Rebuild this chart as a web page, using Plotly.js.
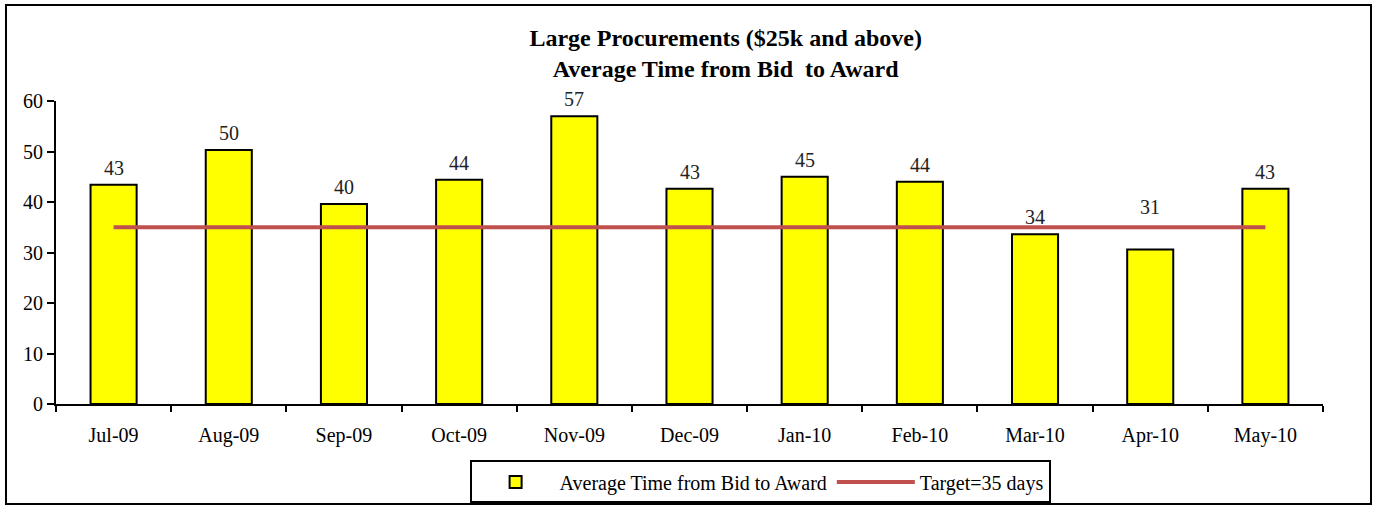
<!DOCTYPE html>
<html>
<head>
<meta charset="utf-8">
<script src="https://cdn.plot.ly/plotly-3.0.1.min.js"></script>
<style>
  html, body { margin: 0; padding: 0; background: #fff; }
  #wrap { position: relative; width: 1377px; height: 506px; }
  #chart { width: 1377px; height: 506px; }
  #frame { position: absolute; left: 5px; top: 4px; width: 1363px; height: 497px; border: 2px solid #000; pointer-events: none; }
</style>
</head>
<body>
<div id="wrap">
  <div id="chart"></div>
  <div id="frame"></div>
</div>
<script>
const months = ["Jul-09","Aug-09","Sep-09","Oct-09","Nov-09","Dec-09","Jan-10","Feb-10","Mar-10","Apr-10","May-10"];
const avgDays = [43.4, 50.3, 39.6, 44.4, 57.0, 42.6, 45.0, 44.0, 33.6, 30.6, 42.6];
const targetDays = [35, 35, 35, 35, 35, 35, 35, 35, 35, 35, 35];
const labelLift = [4, 4, 4, 4, 4, 4, 4, 4, 4, 29, 4];

const serif = "'Liberation Serif', 'Times New Roman', serif";

const traces = [
  {
    type: "bar",
    name: "Average Time from Bid to Award",
    x: months,
    y: avgDays,
    width: 0.4,
    marker: { color: "#FFFF00", line: { color: "#000000", width: 2 } },
    hoverinfo: "x+y"
  },
  {
    type: "scatter",
    mode: "lines",
    name: "Target=35 days",
    x: months,
    y: targetDays,
    line: { color: "#C0504D", width: 4 },
    hoverinfo: "y"
  }
];

const annotations = months.map((m, i) => ({
  x: m,
  y: avgDays[i],
  xref: "x",
  yref: "y",
  text: String(Math.round(avgDays[i])),
  showarrow: false,
  yanchor: "bottom",
  yshift: labelLift[i],
  font: { family: serif, size: 20, color: "#222" }
}));

const layout = {
  width: 1377,
  height: 506,
  paper_bgcolor: "#ffffff",
  plot_bgcolor: "#ffffff",
  margin: { l: 56, r: 54, t: 101, b: 102 },
  font: { family: serif, size: 20, color: "#000" },
  title: {
    text: "<b>Large Procurements ($25k and above)</b><br><b>Average Time from Bid  to Award</b>",
    font: { family: serif, size: 24, color: "#000" },
    x: 0.527,
    xanchor: "center",
    xref: "container",
    yref: "container",
    y: 0.91,
    yanchor: "top"
  },
  showlegend: true,
  legend: {
    orientation: "h",
    xref: "container",
    yref: "container",
    x: 0.552,
    xanchor: "center",
    y: 0.09,
    yanchor: "top",
    bordercolor: "#000",
    borderwidth: 2,
    itemwidth: 78,
    tracegroupgap: 0,
    font: { family: serif, size: 20, color: "#000" },
    traceorder: "normal"
  },
  xaxis: {
    type: "category",
    showline: true,
    linecolor: "#000",
    linewidth: 2,
    ticks: "outside",
    tickson: "boundaries",
    ticklen: 6,
    tickwidth: 2,
    tickcolor: "#000",
    ticklabelstandoff: 12,
    showgrid: false,
    zeroline: false,
    tickfont: { family: serif, size: 20, color: "#000" }
  },
  yaxis: {
    range: [0, 60],
    dtick: 10,
    showline: true,
    linecolor: "#000",
    linewidth: 2,
    ticks: "outside",
    ticklen: 7,
    tickwidth: 2,
    tickcolor: "#000",
    showgrid: false,
    zeroline: false,
    tickfont: { family: serif, size: 20, color: "#000" }
  },
  annotations: annotations
};

Plotly.newPlot("chart", traces, layout, { displayModeBar: false, responsive: false });
</script>
</body>
</html>
